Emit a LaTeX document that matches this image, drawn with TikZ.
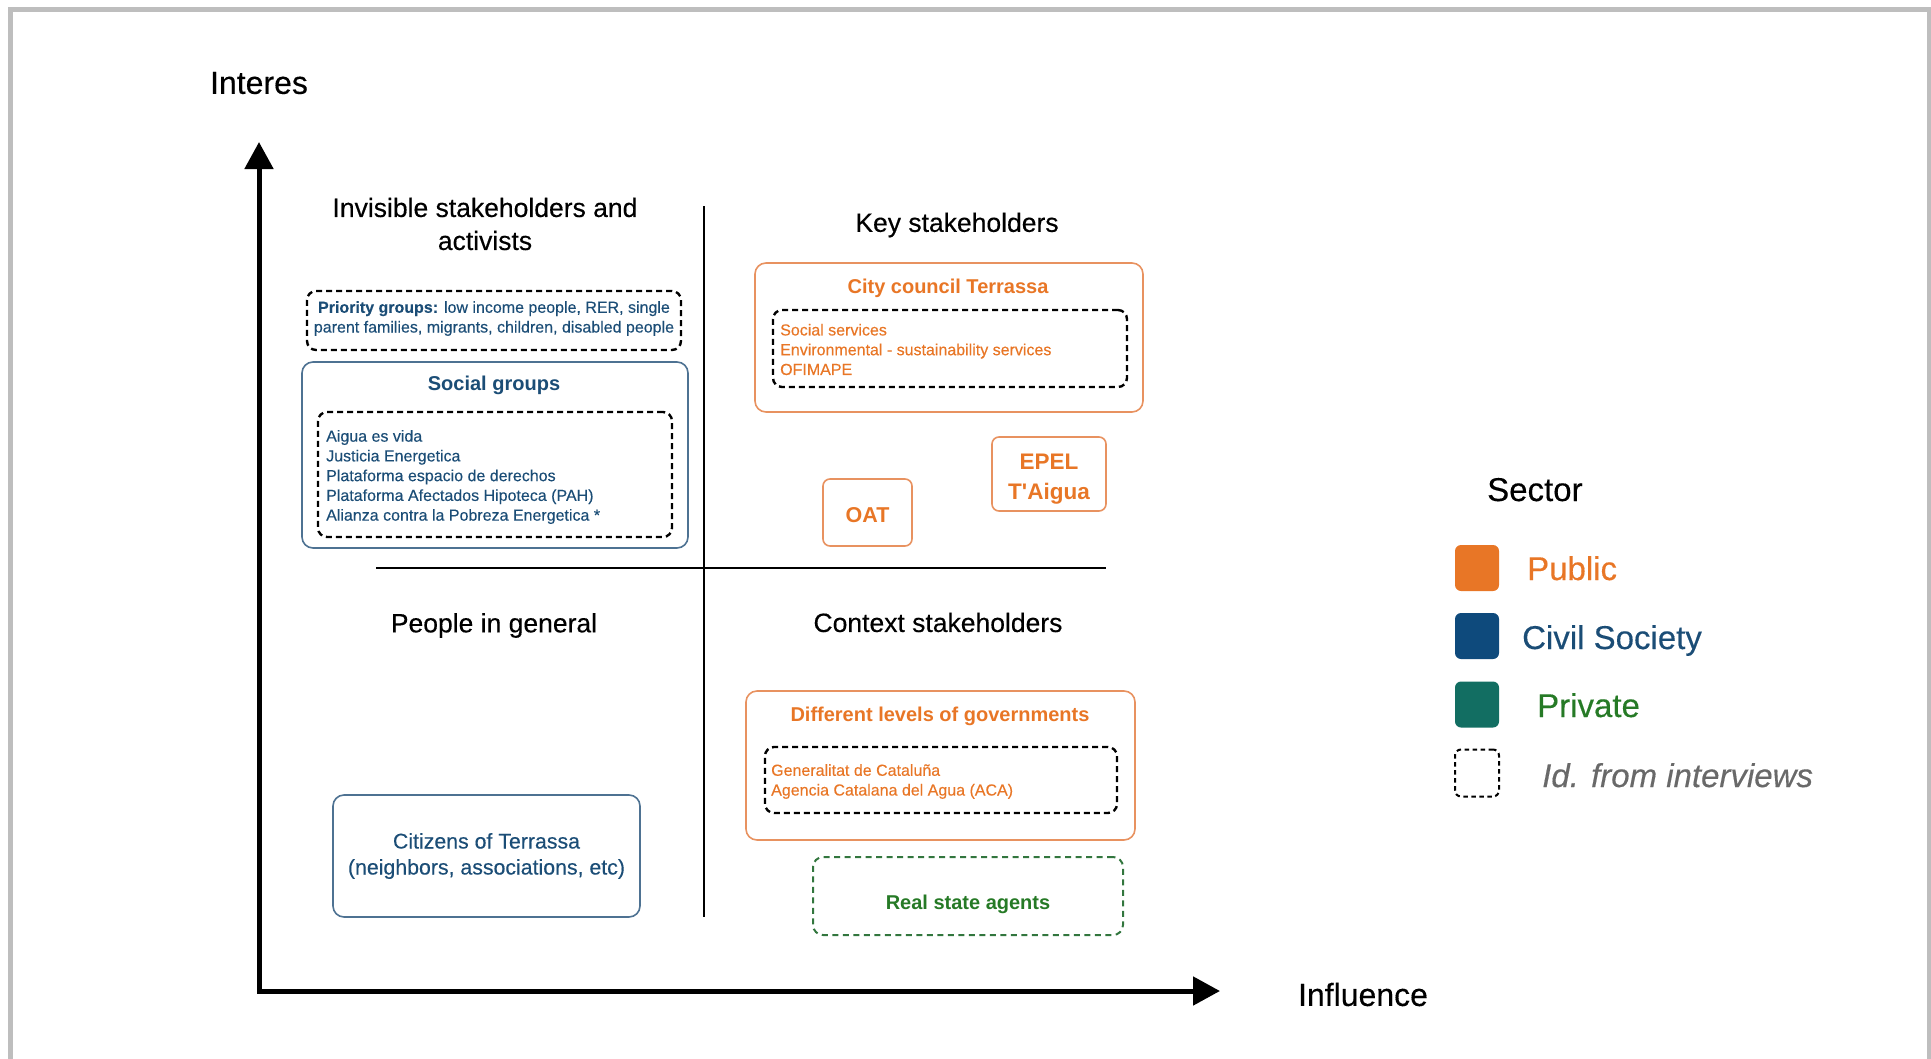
\documentclass[tikz,border=0pt]{standalone}
\usepackage{fontspec}
\setmainfont{Liberation Sans}
\newfontfamily\medf{Liberation Sans}[FakeBold=0.3]
\newfontfamily\noligf{Liberation Sans}[Ligatures=TeXOff]
\usetikzlibrary{arrows.meta}
\definecolor{pub}{RGB}{232,118,38}
\definecolor{publine}{RGB}{232,146,96}
\definecolor{civ}{RGB}{27,77,118}
\definecolor{civline}{RGB}{78,114,146}
\definecolor{civsq}{RGB}{14,74,124}
\definecolor{privsq}{RGB}{18,110,98}
\definecolor{priv}{RGB}{38,122,38}
\definecolor{privline}{RGB}{50,118,62}
\definecolor{framegray}{RGB}{190,190,190}
\definecolor{idgray}{RGB}{105,105,105}
\begin{document}
\begin{tikzpicture}[x=1pt,y=-1pt,
  solidbox/.style={draw, rounded corners=11pt, line width=1.6pt, inner sep=0pt},
  dashbox/.style={draw=black, dash pattern=on 6pt off 4pt, line width=2.4pt, rounded corners=9pt, inner sep=0pt},
  sqbox/.style={rounded corners=6pt, minimum width=44pt, minimum height=46pt, inner sep=0pt},
  small/.style={font=\medf\fontsize{16}{19.75}\selectfont, inner sep=0pt},
  titlef/.style={font=\bfseries\fontsize{20}{24}\selectfont, inner sep=0pt},
  quadf/.style={font=\medf\fontsize{26.5}{33}\selectfont, inner sep=0pt, align=center},
  axisf/.style={font=\medf\fontsize{32}{38}\selectfont, inner sep=0pt},
  legf/.style={font=\medf\fontsize{33}{38}\selectfont, inner sep=0pt, anchor=base west}]
\useasboundingbox (0,0) rectangle (1931,1058);
% frame
\draw[framegray, line width=5pt] (10,1070) -- (10,9.5) -- (1929,9.5) -- (1929,1070);
% axes
\coordinate (ytip) at (259,142);
\coordinate (origin) at (259,991);
\coordinate (xtip) at (1220,991);
\draw[line width=5pt, {Triangle[width=28pt,length=27pt]}-{Triangle[width=28pt,length=27pt]}] (ytip) -- (origin) -- (xtip);
\node[axisf] (interes) at (259,83) {Interes};
\node[axisf] (influence) at (1363,994.5) {Influence};
% quadrant lines
\coordinate (vtop) at (704,206);
\coordinate (vbot) at (704,917);
\coordinate (hleft) at (376,568);
\coordinate (hright) at (1106,568);
\draw[line width=2pt] (vtop) -- (vbot);
\draw[line width=2pt] (hleft) -- (hright);
% quadrant titles
\node[quadf] (q1) at (485,224) {Invisible stakeholders and\\activists};
\node[quadf] (q2) at (957,225) {Key stakeholders};
\node[quadf] (q3) at (494,625.5) {People in general};
\node[quadf] (q4) at (938,622.5) {Context stakeholders};
% priority groups
\node[dashbox, minimum width=374pt, minimum height=59pt] (prio) at (494,320.5) {};
\node[small, text=civ, align=center] (priotext) at (494,318.5) {\textbf{Priority groups:} low income people, RER, single\\parent families, migrants, children, disabled people};
% social groups
\node[solidbox, draw=civline, minimum width=386pt, minimum height=186pt] (social) at (495,455) {};
\node[titlef, text=civ] (socialt) at (494,385) {Social groups};
\node[dashbox, minimum width=354pt, minimum height=125pt] (socialin) at (495,474.5) {};
\node[small, text=civ, align=left, anchor=west] (socialtext) at (326,477) {Aigua es vida\\Justicia Energetica\\Plataforma espacio de derechos\\Plataforma Afectados Hipoteca (PAH)\\Alianza contra la Pobreza Energetica *};
% city council
\node[solidbox, draw=publine, minimum width=388pt, minimum height=149pt] (city) at (949,337.5) {};
\node[titlef, text=pub] (cityt) at (948,288.5) {City council Terrassa};
\node[dashbox, minimum width=354pt, minimum height=77pt] (cityin) at (950,348.5) {};
\node[small, text=pub, align=left, anchor=west] (citytext) at (780,349.5) {Social services\\Environmental - sustainability services\\OFIMAPE};
% OAT, EPEL
\node[solidbox, draw=publine, rounded corners=7pt, minimum width=89pt, minimum height=67pt] (oat) at (867.5,512.5) {};
\node[text=pub, font=\bfseries\fontsize{21.5}{26}\selectfont, inner sep=0pt] (oatt) at (867.5,515) {OAT};
\node[solidbox, draw=publine, rounded corners=7pt, minimum width=114pt, minimum height=74pt] (epel) at (1049,474) {};
\node[text=pub, font=\noligf\bfseries\fontsize{22.5}{30}\selectfont, align=center, inner sep=0pt] (epelt) at (1049,479.5) {EPEL\\T'Aigua};
% different levels
\node[solidbox, draw=publine, minimum width=389pt, minimum height=149pt] (gov) at (940.5,765.5) {};
\node[titlef, text=pub] (govt) at (940,716.5) {Different levels of governments};
\node[dashbox, minimum width=352pt, minimum height=66pt] (govin) at (941,780) {};
\node[small, text=pub, align=left, anchor=west] (govtext) at (771,781.5) {Generalitat de Cataluña\\Agencia Catalana del Agua (ACA)};
% real state
\node[draw=privline, dash pattern=on 6pt off 4.5pt, line width=2pt, rounded corners=10pt, minimum width=310pt, minimum height=78pt, inner sep=0pt] (real) at (968,896) {};
\node[titlef, text=priv] (realt) at (968,904.5) {Real state agents};
% citizens
\node[solidbox, draw=civline, minimum width=307pt, minimum height=122pt, text=civ, align=center, font=\medf\fontsize{21.3}{26}\selectfont] (cit) at (486.5,856) {Citizens of Terrassa\\(neighbors, associations, etc)};
% legend
\node[legf] (sector) at (1487,501) {Sector};
\node[sqbox, fill=pub] (sqpub) at (1477,568) {};
\node[sqbox, fill=civsq] (sqciv) at (1477,636) {};
\node[sqbox, fill=privsq] (sqpriv) at (1477,704.5) {};
\node[sqbox, draw=black, dash pattern=on 4.5pt off 3.5pt, line width=2pt, minimum height=47pt] (sqid) at (1477,773) {};
\node[legf, text=pub] (lpub) at (1527,580) {Public};
\node[legf, text=civ] (lciv) at (1522,649) {Civil Society};
\node[legf, text=priv] (lpriv) at (1537,717) {Private};
\node[legf, text=idgray, font=\medf\itshape\fontsize{33}{38}\selectfont] (lid) at (1542,787) {Id. from interviews};
\end{tikzpicture}
\end{document}
